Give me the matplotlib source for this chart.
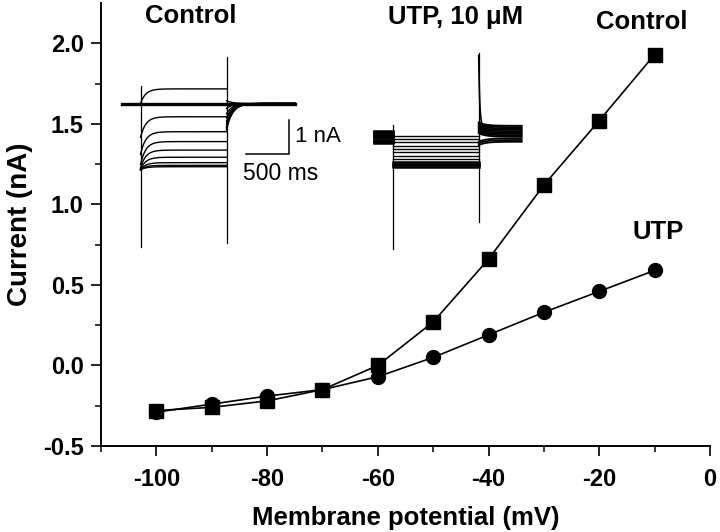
import numpy as np
import matplotlib.pyplot as plt

plt.rcParams['font.family'] = ['Liberation Sans', 'DejaVu Sans']
plt.rcParams['font.weight'] = 'bold'
plt.rcParams['axes.unicode_minus'] = False

# I-V data
voltage = [-100, -90, -80, -70, -60, -50, -40, -30, -20, -10]
control = [-0.28, -0.26, -0.22, -0.15, 0.00, 0.27, 0.66, 1.12, 1.52, 1.93]
utp = [-0.29, -0.24, -0.19, -0.15, -0.07, 0.05, 0.19, 0.33, 0.46, 0.59]

# inset traces (nA) - control
ctl_level = [0.43, 0.0, -0.39, -0.83, -1.12, -1.37, -1.58, -1.74, -1.82, -1.86]
ctl_start = [0.0, 0.0, -1.0, -1.5, -1.8, -1.9, -1.95, -1.95, -1.95, -1.95]
ctl_tail = [0.08, 0.0, -0.15, -0.3, -0.42, -0.52, -0.6, -0.68, -0.72, -0.78]

# inset traces (nA) - UTP
utp_pre = [0.17, 0.14, 0.11, 0.08, 0.05, 0.02, -0.01, -0.04, -0.08, -0.11, -0.14, -0.17]
utp_level = [0.03, -0.07, -0.16, -0.26, -0.35, -0.45, -0.55, -0.65, -0.73, -0.78, -0.82, -0.87]
utp_post = [0.33, 0.29, 0.25, 0.21, 0.17, 0.13, 0.09, 0.05, 0.01, -0.04, -0.09, -0.14]
utp_lw = [1.0, 1.0, 1.0, 1.0, 1.0, 1.0, 1.0, 1.0, 1.8, 1.8, 1.8, 1.8]

W, H = 720, 532
fig = plt.figure(figsize=(7.2, 5.32), dpi=100)


def box(x0, y0, x1, y1):
    # pixel box (top-left origin) -> figure fraction rect
    return [x0 / W, 1 - y1 / H, (x1 - x0) / W, (y1 - y0) / H]


ax = fig.add_axes(box(101, 3, 710, 446))
ax.plot(voltage, control, 'k-', lw=1.2, marker='s', ms=9.5, mfc='k', mec='k')
ax.plot(voltage, utp, 'k-', lw=1.2, marker='o', ms=10, mfc='k', mec='k')
ax.set_xlim(-110, 0)
ax.set_ylim(-0.5, 2.25)
ax.set_xticks([-100, -80, -60, -40, -20, 0])
ax.set_xticks(np.arange(-110, 0, 10), minor=True)
ax.set_yticks([-0.5, 0.0, 0.5, 1.0, 1.5, 2.0])
ax.set_yticks([-0.25, 0.25, 0.75, 1.25, 1.75], minor=True)
ax.set_yticklabels(['-0.5', '0.0', '0.5', '1.0', '1.5', '2.0'])
ax.spines['top'].set_visible(False)
ax.spines['right'].set_visible(False)
for s in ['left', 'bottom']:
    ax.spines[s].set_linewidth(1.4)
ax.tick_params(which='major', length=7.5, width=1.2, labelsize=17, pad=5)
ax.tick_params(which='minor', length=4, width=1.1)
ax.tick_params(axis='x', which='major', pad=8)
ax.set_xlabel('Membrane potential (mV)', fontsize=18.5, fontweight='bold', labelpad=11)
ax.set_ylabel('Current (nA)', fontsize=20, fontweight='bold', labelpad=7)
ax.text(-12.3, 2.13, 'Control', fontsize=18.5, fontweight='bold', ha='center', va='center')
ax.text(-9.4, 0.83, 'UTP', fontsize=18.5, fontweight='bold', ha='center', va='center')

# scales of the inset traces: 0.086 px per ms, 34 px per nA
PXMS, PXNA = 0.086, 34.0


def inset(x0, y0, x1, y1, tx, iy):
    a = fig.add_axes(box(x0, y0, x1, y1))
    a.set_xlim((x0 - tx) / PXMS, (x1 - tx) / PXMS)
    a.set_ylim((iy - y1) / PXNA, (iy - y0) / PXNA)
    a.axis('off')
    return a


# control inset
ac = inset(110, 40, 340, 260, 140.5, 103.5)
t_on = np.linspace(0, 1000, 200)
t_off = np.linspace(1000, 1800, 200)
for lev, st, tl in zip(ctl_level, ctl_start, ctl_tail):
    on = lev + (st - lev) * np.exp(-t_on / 60.0)
    off = tl * np.exp(-(t_off - 1000) / 70.0)
    ac.plot(t_on, on, 'k-', lw=1.0)
    ac.plot(t_off, off, 'k-', lw=1.0)
ac.plot([-210, 1800], [0, 0], 'k-', lw=2.4)
ac.plot([0, 0], [0.51, -4.21], 'k-', lw=0.9)
ac.plot([1000, 1000], [1.38, -4.1], 'k-', lw=0.9)
# scale bar
ac.plot([1227, 1727, 1727], [-1.485, -1.485, -0.485], 'k-', lw=1.1)
ac.text(1800, -0.96, '1 nA', fontsize=16, ha='left', va='center', fontweight='normal')
ac.text(1634, -2.07, '500 ms', fontsize=16.5, ha='center', va='center', fontweight='normal')
fig.text(191 / W, 1 - 16 / H, 'Control', fontsize=18.5, fontweight='bold', ha='center', va='center')

# UTP inset
au = inset(360, 40, 540, 260, 392.7, 137)
t_post = np.linspace(1000, 1500, 150)
for pre, lev, post, lw in zip(utp_pre, utp_level, utp_post, utp_lw):
    au.plot([-217, 0], [pre, pre], 'k-', lw=1.8)
    au.plot([0, 1000], [lev, lev], 'k-', lw=lw)
    au.plot(t_post, post + 0.1 * np.exp(-(t_post - 1000) / 80.0) * np.sign(post), 'k-', lw=1.3)
au.plot([0, 0], [0.35, -3.3], 'k-', lw=0.9)
au.plot([1000, 1000], [2.47, -2.5], 'k-', lw=0.9)
t_sp = np.linspace(1000, 1150, 60)
au.plot(t_sp, 0.3 + 2.1 * np.exp(-(t_sp - 1000) / 12.0), 'k-', lw=1.2)
fig.text(456 / W, 1 - 17 / H, 'UTP, 10 \u03bcM', fontsize=18.5, fontweight='bold', ha='center', va='center')

fig.savefig('out.png', dpi=100)
